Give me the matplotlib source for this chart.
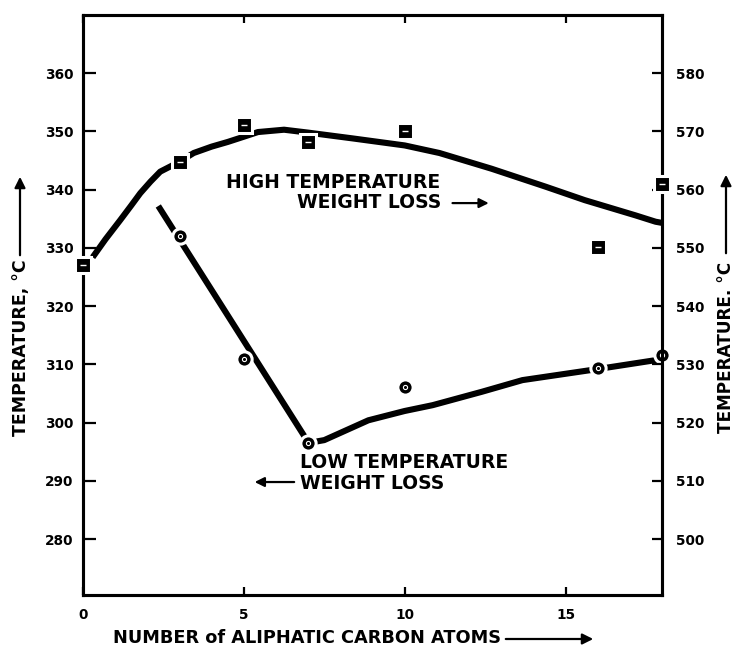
import matplotlib
matplotlib.use("Agg")
import matplotlib.pyplot as plt

plt.rcParams['font.family'] = ['DejaVu Sans']
plt.rcParams['font.weight'] = 'bold'

# measured points
carbons = [0, 3, 5, 7, 10, 16, 18]
high_temp = [547.0, 564.8, 571.1, 568.2, 570.0, 550.1, 560.9]   # right scale
low_temp = [332.0, 310.9, 296.5, 306.1, 309.3, 311.6]           # left scale
low_carbons = [3, 5, 7, 10, 16, 18]

# hand-drawn trend lines
high_curve_x = [0.3, 0.7, 1.16, 1.5, 1.78, 2.1, 2.4, 3.0, 3.44, 4.0, 4.5, 5.0, 5.44,
                6.25, 7.0, 8.39, 10.0, 11.08, 12.7, 14.39, 15.6, 17.17, 17.8, 18.0]
high_curve_y = [548.4, 551.5, 554.8, 557.3, 559.4, 561.4, 563.1, 564.8, 566.3, 567.4,
                568.2, 569.1, 569.9, 570.3, 569.8, 568.8, 567.6, 566.3, 563.6, 560.5,
                558.2, 555.6, 554.5, 554.3]
low_curve_x = [2.34, 6.9, 7.0, 7.5, 8.87, 10.0, 10.87, 12.4, 13.66, 16.0, 18.0]
low_curve_y = [337.2, 297.5, 296.5, 297.0, 300.4, 302.0, 303.0, 305.3, 307.3, 309.2, 310.9]

left_ticks = list(range(280, 361, 10))
right_ticks = list(range(500, 581, 10))
x_ticks = [0, 5, 10, 15]

fig = plt.figure(figsize=(7.36, 6.49), dpi=100)
ax = fig.add_axes([0.1128, 0.0832, 0.7867, 0.8937])
ax2 = ax.twinx()

ax.set_xlim(0, 18)
ax.set_ylim(270.4, 370)
ax2.set_ylim(490.4, 590)

# low temperature weight loss (left axis)
ax.plot(low_curve_x, low_curve_y, color='black', lw=4.4, solid_capstyle='butt',
        solid_joinstyle='round')
ax.plot(low_carbons, low_temp, 'o', ms=11, mfc='black', mec='white', mew=2.2,
        clip_on=False, zorder=5)
ax.plot(low_carbons, low_temp, 'o', ms=3, mfc='none', mec='white', mew=0.8,
        clip_on=False, zorder=6)

# high temperature weight loss (right axis)
ax2.plot(high_curve_x, high_curve_y, color='black', lw=4.4, solid_capstyle='butt',
         solid_joinstyle='round')
ax2.plot(carbons, high_temp, 's', ms=11, mfc='black', mec='white', mew=2.2,
         clip_on=False, zorder=5)
ax2.plot(carbons, high_temp, '_', ms=4, color='white', mew=1,
         clip_on=False, zorder=6)

ax.set_xticks(x_ticks)
ax.set_yticks(left_ticks)
ax2.set_yticks(right_ticks)

for a in (ax, ax2):
    for s in a.spines.values():
        s.set_linewidth(2.2)
ax.tick_params(axis='y', direction='in', length=9, width=1.6, pad=7, labelsize=9.8)
ax.tick_params(axis='x', direction='in', length=6, width=1.6, pad=9, labelsize=9.8,
               top=True)
ax2.tick_params(axis='y', direction='in', length=7, width=1.6, pad=10, labelsize=9.8)
for lbl in ax.get_xticklabels() + ax.get_yticklabels() + ax2.get_yticklabels():
    lbl.set_fontweight('bold')

# curve labels
ax.text(4.46, 340.3, 'HIGH TEMPERATURE', fontsize=13.5, fontweight='bold', va='baseline')
ax.text(6.66, 336.8, 'WEIGHT LOSS', fontsize=13.5, fontweight='bold', va='baseline')
ax.annotate('', xy=(12.7, 337.7), xytext=(11.4, 337.7),
            arrowprops=dict(arrowstyle='-|>', color='black', lw=1.6, mutation_scale=14))
ax.text(6.75, 292.2, 'LOW TEMPERATURE', fontsize=13.5, fontweight='bold', va='baseline')
ax.text(6.75, 288.6, 'WEIGHT LOSS', fontsize=13.5, fontweight='bold', va='baseline')
ax.annotate('', xy=(5.25, 289.8), xytext=(6.65, 289.8),
            arrowprops=dict(arrowstyle='-|>', color='black', lw=1.6, mutation_scale=14))

# axis titles with arrows
W, H = 736, 649
fig.text(113 / W, 1 - 638 / H, 'NUMBER of ALIPHATIC CARBON ATOMS', fontsize=12.8,
         fontweight='bold', ha='left', va='center')
ax.annotate('', xy=(596 / W, 1 - 639 / H), xytext=(503 / W, 1 - 639 / H),
            xycoords='figure fraction', textcoords='figure fraction',
            arrowprops=dict(arrowstyle='-|>', color='black', lw=1.6, mutation_scale=16))

fig.text(21 / W, 1 - 348 / H, 'TEMPERATURE, °C', fontsize=12.5, fontweight='bold',
         rotation=90, ha='center', va='center')
ax.annotate('', xy=(20 / W, 1 - 174 / H), xytext=(20 / W, 1 - 258 / H),
            xycoords='figure fraction', textcoords='figure fraction',
            arrowprops=dict(arrowstyle='-|>', color='black', lw=1.6, mutation_scale=16))

fig.text(726 / W, 1 - 347 / H, 'TEMPERATURE. °C', fontsize=12.2, fontweight='bold',
         rotation=90, ha='center', va='center')
ax.annotate('', xy=(726 / W, 1 - 172 / H), xytext=(726 / W, 1 - 256 / H),
            xycoords='figure fraction', textcoords='figure fraction',
            arrowprops=dict(arrowstyle='-|>', color='black', lw=1.6, mutation_scale=16))

fig.savefig('out.png', dpi=100)
